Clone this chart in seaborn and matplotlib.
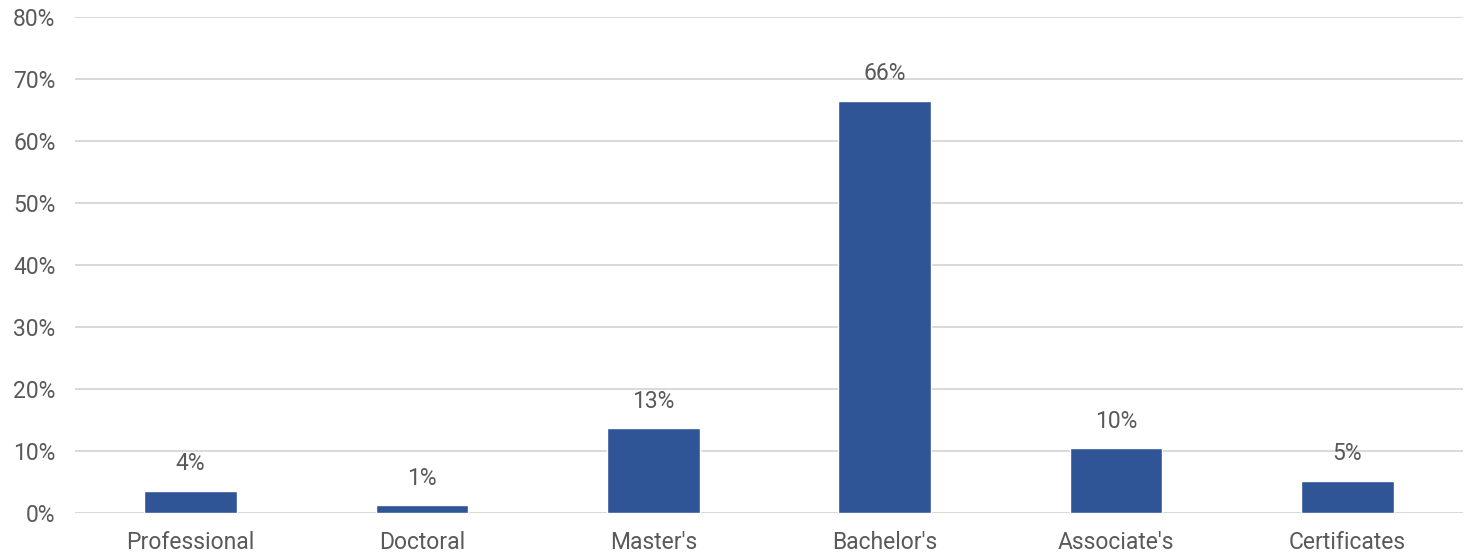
import matplotlib
matplotlib.use("Agg")
import matplotlib.pyplot as plt
import numpy as np
import pandas as pd
import seaborn as sns
from matplotlib.ticker import FuncFormatter

# data
categories = ["Professional", "Doctoral", "Master's", "Bachelor's", "Associate's", "Certificates"]
shares = [3.6, 1.3, 13.7, 66.5, 10.5, 5.2]
labels = ["4%", "1%", "13%", "66%", "10%", "5%"]

df = pd.DataFrame({"category": categories, "share": shares})

sns.set_theme(style="white")
plt.rcParams["font.family"] = ["Roboto", "DejaVu Sans"]

text_color = "#595959"
bar_color = "#2F5597"

fig = plt.figure(figsize=(14.75, 5.59), dpi=100)
ax = fig.add_axes([0.0508, 0.0823, 0.9411, 0.8873])

sns.barplot(data=df, x="category", y="share", color=bar_color, width=0.4,
            saturation=1, ax=ax)

ax.set_ylim(0, 80)
ax.set_yticks(np.arange(0, 81, 10))
ax.yaxis.set_major_formatter(FuncFormatter(lambda v, _: f"{v:.0f}%"))
ax.grid(True, axis="y", color="#d9d9d9", linewidth=1.4)
ax.set_axisbelow(True)
for side in ["top", "right", "left", "bottom"]:
    ax.spines[side].set_visible(False)
ax.axhline(0, color="#d9d9d9", linewidth=1.4, zorder=0)

ax.set_xlabel("")
ax.set_ylabel("")
ax.tick_params(axis="both", length=0, labelsize=16.5, colors=text_color)
ax.tick_params(axis="y", pad=14)
ax.tick_params(axis="x", pad=13)

for patch, lab in zip(ax.patches, labels):
    x = patch.get_x() + patch.get_width() / 2
    ax.annotate(lab, (x, patch.get_height()), xytext=(0, 11),
                textcoords="offset points", ha="center", va="bottom",
                fontsize=16.5, color=text_color)

fig.savefig("out.png", dpi=100)
